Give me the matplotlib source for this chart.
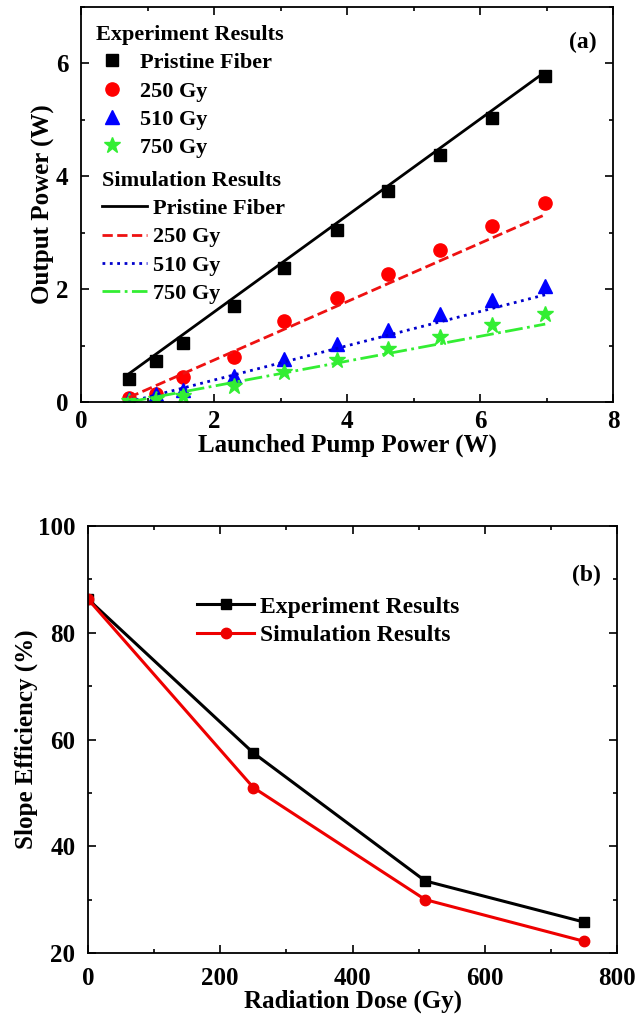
import matplotlib.pyplot as plt
from matplotlib.ticker import MultipleLocator

plt.rcParams['font.family'] = 'Liberation Serif'
plt.rcParams['font.weight'] = 'bold'
plt.rcParams['axes.labelweight'] = 'bold'

# panel (a) data
pump = [0.72, 1.12, 1.53, 2.30, 3.05, 3.85, 4.62, 5.40, 6.18, 6.98]
exp_pristine = [0.41, 0.72, 1.05, 1.70, 2.37, 3.05, 3.74, 4.38, 5.04, 5.77]
exp_250 = [0.07, 0.15, 0.44, 0.80, 1.43, 1.84, 2.26, 2.70, 3.11, 3.53]
exp_510 = [0.05, 0.14, 0.22, 0.46, 0.76, 1.03, 1.28, 1.56, 1.80, 2.06]
exp_750 = [0.01, 0.05, 0.10, 0.28, 0.53, 0.74, 0.94, 1.15, 1.37, 1.55]

sim_pump = [0.72, 6.98]
sim_pristine = [0.50, 5.85]
sim_250 = [0.08, 3.32]
sim_510 = [0.00, 1.90]
sim_750 = [0.00, 1.38]

# panel (b) data
dose = [0, 250, 510, 750]
slope_exp = [86.3, 57.5, 33.5, 25.8]
slope_sim = [86.3, 51.0, 30.0, 22.2]

fig = plt.figure(figsize=(6.39, 10.21), dpi=100)
ax1 = fig.add_axes([0.1268, 0.6063, 0.8326, 0.3869])
ax2 = fig.add_axes([0.1377, 0.0666, 0.8279, 0.4182])

fs_tick = 18
fs_lab = 18
fs_leg = 16

for ax in (ax1, ax2):
    for s in ax.spines.values():
        s.set_linewidth(1.3)
    ax.tick_params(which='both', direction='in', top=True, right=True,
                   labelsize=fs_tick, width=1.2)
    ax.tick_params(which='major', length=6)
    ax.tick_params(which='minor', length=3)
    ax.tick_params(axis='y', pad=9)
ax1.tick_params(axis='x', pad=6)
ax2.tick_params(axis='x', pad=10)

# ---- panel (a)
h1 = ax1.plot(pump, exp_pristine, 's', color='black', ms=8, ls='none', label='Pristine Fiber')[0]
h2 = ax1.plot(pump, exp_250, 'o', color='#ff0000', ms=9.5, ls='none', label='250 Gy')[0]
h3 = ax1.plot(pump, exp_510, '^', color='#0000ff', ms=9.5, ls='none', label='510 Gy')[0]
h4 = ax1.plot(pump, exp_750, '*', color='#33ee33', ms=12, ls='none', label='750 Gy')[0]

l1 = ax1.plot(sim_pump, sim_pristine, '-', color='black', lw=2, label='Pristine Fiber')[0]
l2 = ax1.plot(sim_pump, sim_250, '--', color='#ee1111', lw=2, label='250 Gy')[0]
l3 = ax1.plot(sim_pump, sim_510, ':', color='#0000cc', lw=2, label='510 Gy')[0]
l4 = ax1.plot(sim_pump, sim_750, '-.', color='#33ee33', lw=2, label='750 Gy')[0]

ax1.set_xlim(0, 8)
ax1.set_ylim(0, 7)
ax1.xaxis.set_major_locator(MultipleLocator(2))
ax1.xaxis.set_minor_locator(MultipleLocator(1))
ax1.yaxis.set_major_locator(MultipleLocator(2))
ax1.yaxis.set_minor_locator(MultipleLocator(1))
ax1.set_xlabel('Launched Pump Power (W)', fontsize=fs_lab, fontweight='bold', labelpad=0)
ax1.set_ylabel('Output Power (W)', fontsize=fs_lab, fontweight='bold', labelpad=1)
ax1.text(0.97, 0.91, '(a)', transform=ax1.transAxes, fontsize=17,
         fontweight='bold', ha='right', va='center')

leg_a = ax1.legend(handles=[h1, h2, h3, h4], title='Experiment Results',
                   loc='upper left', bbox_to_anchor=(0.011, 0.977), frameon=False,
                   fontsize=fs_leg, title_fontproperties={'weight': 'bold', 'size': fs_leg},
                   alignment='left', handlelength=1.5, handletextpad=0.5,
                   labelspacing=0.35, borderaxespad=0)
ax1.add_artist(leg_a)
ax1.legend(handles=[l1, l2, l3, l4], title='Simulation Results',
           loc='upper left', bbox_to_anchor=(0.023, 0.608), frameon=False,
           fontsize=fs_leg, title_fontproperties={'weight': 'bold', 'size': fs_leg},
           alignment='left', handlelength=2.0, handletextpad=0.3,
           labelspacing=0.35, borderaxespad=0)

# ---- panel (b)
ax2.plot(dose, slope_exp, '-s', color='black', lw=2.2, ms=7.5, label='Experiment Results')
ax2.plot(dose, slope_sim, '-o', color='#ee0000', lw=2.2, ms=7.5, label='Simulation Results')
ax2.set_xlim(0, 800)
ax2.set_ylim(20, 100)
ax2.xaxis.set_major_locator(MultipleLocator(200))
ax2.xaxis.set_minor_locator(MultipleLocator(100))
ax2.yaxis.set_major_locator(MultipleLocator(20))
ax2.yaxis.set_minor_locator(MultipleLocator(10))
ax2.set_xlabel('Radiation Dose (Gy)', fontsize=fs_lab, fontweight='bold', labelpad=0)
ax2.set_ylabel('Slope Efficiency (%)', fontsize=fs_lab, fontweight='bold', labelpad=0)
ax2.text(0.97, 0.885, '(b)', transform=ax2.transAxes, fontsize=17,
         fontweight='bold', ha='right', va='center')
ax2.legend(loc='upper left', bbox_to_anchor=(0.189, 0.858), frameon=False,
           fontsize=17, handlelength=2.4, handletextpad=0.25, labelspacing=0.3,
           borderaxespad=0)

for ax in (ax1, ax2):
    for lbl in ax.get_xticklabels() + ax.get_yticklabels():
        lbl.set_fontweight('bold')

fig.savefig('out.png', dpi=100)
